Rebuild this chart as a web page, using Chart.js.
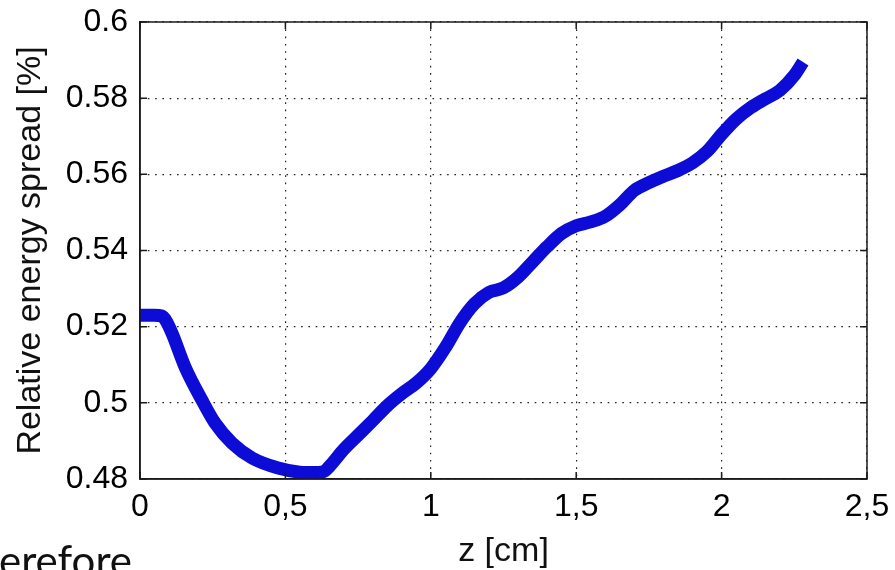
<!DOCTYPE html>
<html>
<head>
<meta charset="utf-8">
<script src="https://cdn.jsdelivr.net/npm/chart.js@4/dist/chart.umd.min.js"></script>
<style>
  html, body { margin: 0; padding: 0; background: #fff; }
  #wrap { position: relative; width: 895px; height: 570px; overflow: hidden; }
  #note { position: absolute; left: -1px; top: 539px; font-family: Lato, "Open Sans", sans-serif; font-size: 42px; line-height: 42px; color: #111; white-space: nowrap; }
</style>
</head>
<body>
<div id="wrap">
  <canvas id="c" width="895" height="570"></canvas>
  <div id="note">erefore</div>
</div>
<script>
// ---- data ----
const zValues = [0, 0.05, 0.075, 0.09, 0.11, 0.155, 0.213, 0.258, 0.317, 0.386, 0.475, 0.55, 0.6, 0.63, 0.65, 0.7, 0.75, 0.8, 0.85, 0.9, 0.95, 1.0, 1.05, 1.1, 1.15, 1.2, 1.25, 1.3, 1.35, 1.4, 1.45, 1.5, 1.55, 1.6, 1.65, 1.7, 1.75, 1.8, 1.85, 1.9, 1.95, 2.0, 2.05, 2.1, 2.15, 2.2, 2.25, 2.28];
const spreadValues = [0.523, 0.523, 0.5228, 0.5215, 0.5183, 0.5094, 0.5007, 0.4947, 0.4894, 0.4855, 0.4829, 0.4818, 0.4817, 0.4819, 0.4832, 0.4877, 0.4915, 0.4953, 0.4992, 0.5024, 0.5052, 0.509, 0.5145, 0.521, 0.526, 0.529, 0.5302, 0.533, 0.537, 0.541, 0.5445, 0.5465, 0.5475, 0.549, 0.552, 0.5558, 0.5578, 0.5595, 0.561, 0.563, 0.566, 0.5705, 0.5745, 0.5775, 0.5798, 0.582, 0.586, 0.5895];
const xTickLabels = ['0', '0,5', '1', '1,5', '2', '2,5'];
const yTickLabels = ['0.48', '0.5', '0.52', '0.54', '0.56', '0.58', '0.6'];
const xTitle = 'z [cm]';
const yTitle = 'Relative energy spread [%]';

const points = zValues.map((z, i) => ({ x: z, y: spreadValues[i] }));
const FONT = '"Liberation Sans", Arial, sans-serif';

const boxPlugin = {
  id: 'matlabBox',
  afterDraw(chart) {
    const { ctx, chartArea: a, scales } = chart;
    ctx.save();
    ctx.strokeStyle = '#1a1a1a';
    ctx.lineWidth = 1.5;
    ctx.strokeRect(a.left, a.top, a.right - a.left, a.bottom - a.top);
    const tl = 7;
    ctx.beginPath();
    scales.x.ticks.forEach(t => {
      const px = scales.x.getPixelForValue(t.value);
      ctx.moveTo(px, a.bottom); ctx.lineTo(px, a.bottom - tl);
      ctx.moveTo(px, a.top); ctx.lineTo(px, a.top + tl);
    });
    scales.y.ticks.forEach(t => {
      const py = scales.y.getPixelForValue(t.value);
      ctx.moveTo(a.left, py); ctx.lineTo(a.left + tl, py);
      ctx.moveTo(a.right, py); ctx.lineTo(a.right - tl, py);
    });
    ctx.stroke();
    ctx.restore();
  }
};

new Chart(document.getElementById('c'), {
  type: 'line',
  data: {
    datasets: [{
      data: points,
      borderColor: '#0c0cd6',
      borderWidth: 13,
      pointRadius: 0,
      fill: false,
      tension: 0.35,
      cubicInterpolationMode: 'monotone',
      clip: false
    }]
  },
  options: {
    responsive: false,
    animation: false,
    devicePixelRatio: 1,
    layout: { padding: { top: 22, right: 28, left: 0, bottom: 0 } },
    plugins: { legend: { display: false }, tooltip: { enabled: false } },
    scales: {
      x: {
        type: 'linear',
        min: 0, max: 2.5,
        afterFit(s) { s.height = 91; s.paddingLeft = 0; s.paddingRight = 0; },
        ticks: {
          stepSize: 0.5,
          color: '#000',
          font: { family: FONT, size: 32, lineHeight: 1 },
          padding: 12,
          maxRotation: 0,
          callback: (v, i) => xTickLabels[i]
        },
        grid: { color: '#222', lineWidth: 1.2, drawTicks: false },
        border: { display: true, color: '#1a1a1a', width: 1.5, dash: [1.6, 5.7] },
        title: { display: true, text: xTitle, color: '#111', font: { family: FONT, size: 34, lineHeight: 1 }, padding: { top: 0, bottom: 1.5 } }
      },
      y: {
        type: 'linear',
        min: 0.48, max: 0.6,
        afterFit(s) { s.width = 140; s.paddingTop = 0; s.paddingBottom = 0; },
        ticks: {
          stepSize: 0.02,
          color: '#000',
          font: { family: FONT, size: 32, lineHeight: 1 },
          padding: 12,
          callback: (v, i) => yTickLabels[i]
        },
        grid: { color: '#222', lineWidth: 1.2, drawTicks: false },
        border: { display: true, color: '#1a1a1a', width: 1.5, dash: [1.6, 5.7] },
        title: { display: true, text: yTitle, color: '#111', font: { family: FONT, size: 34, lineHeight: 1 }, padding: { top: 13.5, bottom: 0 } }
      }
    }
  },
  plugins: [boxPlugin]
});
</script>
</body>
</html>
